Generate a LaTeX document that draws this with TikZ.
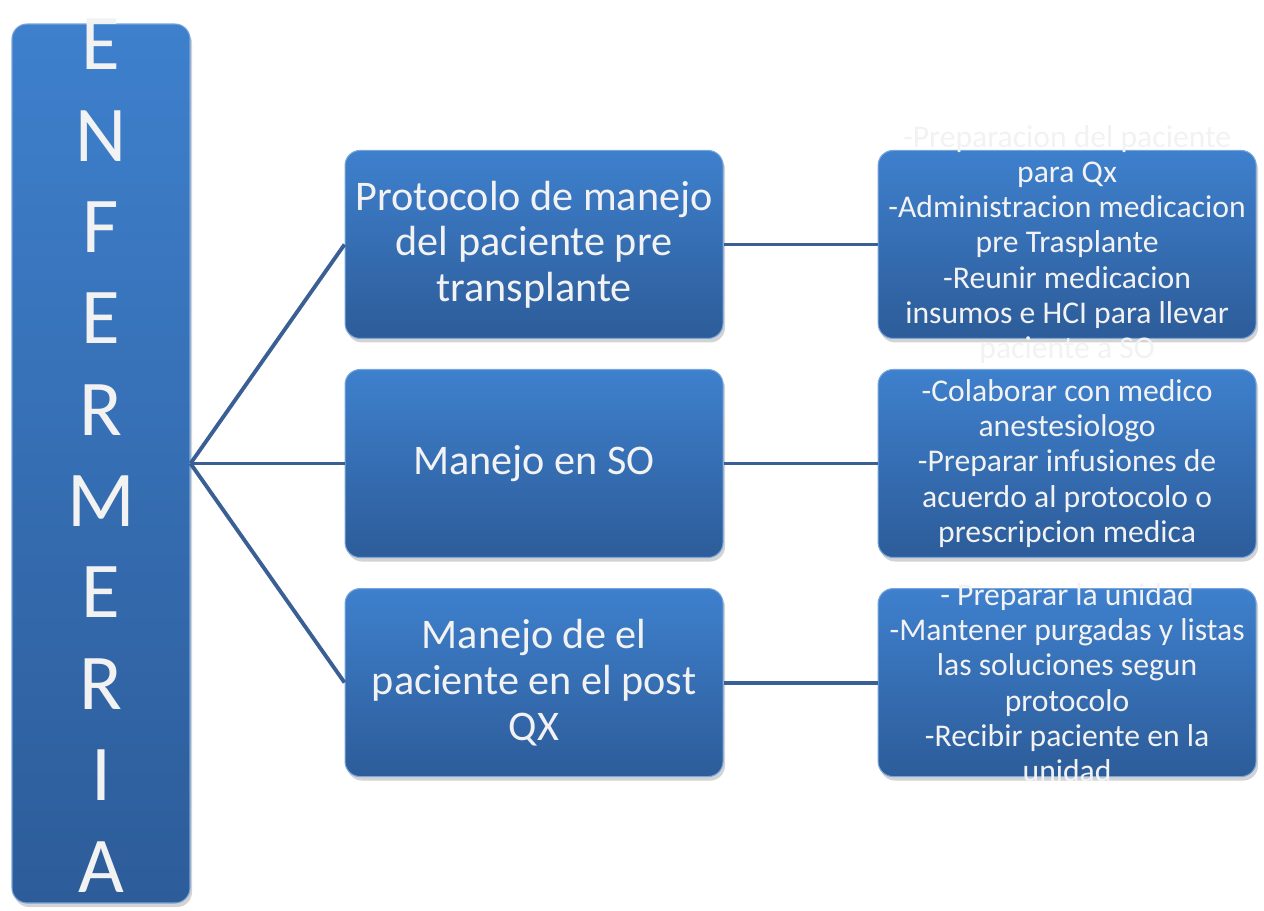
\documentclass[tikz,border=0pt]{standalone}
\usepackage{fontspec}
\setmainfont{Carlito}
\usetikzlibrary{positioning, shadows}
\definecolor{boxtop}{HTML}{3E80CD}
\definecolor{boxbot}{HTML}{2D5C99}
\definecolor{linkblue}{HTML}{3A5F95}
\definecolor{wordwhite}{HTML}{F2F2F2}

\begin{document}
\begin{tikzpicture}[
    node distance=0.6cm and 3.08cm,
    block/.style={rectangle, draw=boxtop!70!white, line width=0.6pt, top color=boxtop, bottom color=boxbot, rounded corners=0.3cm, drop shadow={opacity=0.35, shadow xshift=0.04cm, shadow yshift=-0.08cm}},
    main/.style={block, minimum width=3.56cm, minimum height=17.58cm},
    stage/.style={block, minimum width=7.56cm, minimum height=3.76cm},
    words/.style={text=wordwhite, align=center, inner sep=0pt},
    link/.style={draw=linkblue, line width=2.2pt}
]
\useasboundingbox (0,0) rectangle (25.28,-18.2);

% Main column
\node[main] (enf) at (2.02,-9.27) {};

% Stages
\node[stage, right=of enf] (so) {};
\node[stage, above=of so] (pre) {};
\node[stage, below=of so] (post) {};

% Tasks
\node[stage, right=of pre] (pretask) {};
\node[stage, right=of so] (sotask) {};
\node[stage, right=of post] (posttask) {};

% Connectors
\draw[link] (enf.east) -- (pre.west);
\draw[link] (enf.east) -- (so.west);
\draw[link] (enf.east) -- (post.west);
\draw[link] (pre) -- (pretask);
\draw[link] (so) -- (sotask);
\draw[link] (post) -- (posttask);

% Texts
\node[words, font=\fontsize{45}{52}\selectfont] (enftxt) at ([yshift=0.16cm]enf.center) {E\\N\\F\\E\\R\\M\\E\\R\\I\\A};
\node[words, font=\fontsize{24}{26}\selectfont] (pretxt) at (pre.center) {Protocolo de manejo\\del paciente pre\\transplante};
\node[words, font=\fontsize{24}{26}\selectfont] (sotxt) at (so.center) {Manejo en SO};
\node[words, font=\fontsize{24}{26}\selectfont] (posttxt) at (post.center) {Manejo de el\\paciente en el post\\QX};
\node[words, font=\fontsize{18}{20}\selectfont] (pretasktxt) at (pretask.center) {-Preparacion del paciente\\para Qx\\-Administracion medicacion\\pre Trasplante\\-Reunir medicacion\\insumos e HCI para llevar\\paciente a SO};
\node[words, font=\fontsize{18}{20}\selectfont] (sotasktxt) at (sotask.center) {-Colaborar con medico\\anestesiologo\\-Preparar infusiones de\\acuerdo al protocolo o\\prescripcion medica};
\node[words, font=\fontsize{18}{20}\selectfont] (posttasktxt) at (posttask.center) {- Preparar la unidad\\-Mantener purgadas y listas\\las soluciones segun\\protocolo\\-Recibir paciente en la\\unidad};

\end{tikzpicture}
\end{document}
